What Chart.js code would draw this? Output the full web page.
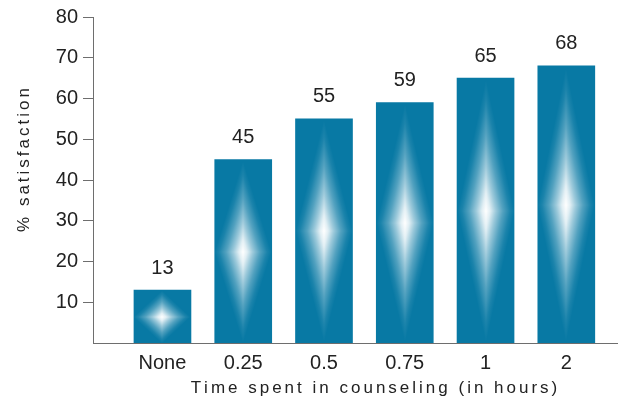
<!DOCTYPE html>
<html>
<head>
<meta charset="utf-8">
<script src="https://cdn.jsdelivr.net/npm/chart.js@4/dist/chart.umd.min.js"></script>
<style>
  html, body { margin: 0; padding: 0; background: #ffffff; }
  #chart { display: block; width: 618px; height: 400px; }
</style>
</head>
<body>
<canvas id="chart" width="618" height="400"></canvas>
<script>
// Satisfaction by time spent in counseling
const categories = ['None', '0.25', '0.5', '0.75', '1', '2'];
const satisfaction = [13, 45, 55, 59, 65, 68];
const yTicks = [10, 20, 30, 40, 50, 60, 70, 80];

const FONT = '"Liberation Sans", Arial, Helvetica, sans-serif';
const TEXT = '#222222';
const AXIS = '#6e6e6e';
const BAR = '#0879a4';

// Draw a string with extra space between the characters, centred on (0, 0)
function spacedText(ctx, str, spacing) {
  const widths = [...str].map(ch => ctx.measureText(ch).width);
  const total = widths.reduce((a, b) => a + b, 0) + spacing * (str.length - 1);
  let x = -total / 2;
  ctx.textAlign = 'left';
  [...str].forEach((ch, i) => {
    ctx.fillText(ch, x, 0);
    x += widths[i] + spacing;
  });
}

// White diamond-shaped highlight inside each bar
const diamondGlow = {
  id: 'diamondGlow',
  afterDatasetsDraw(chart) {
    const ctx = chart.ctx;
    const meta = chart.getDatasetMeta(0);
    meta.data.forEach(bar => {
      const { x, y, base, width } = bar.getProps(['x', 'y', 'base', 'width'], true);
      const left = Math.round(x - width / 2), right = Math.round(x + width / 2);
      const top = Math.round(Math.min(y, base)), bottom = Math.round(Math.max(y, base));
      const cx = Math.round(x), cy = Math.round((top + bottom) / 2);
      const a = width / 2, b = (bottom - top) / 2;
      const t = 1 / (1 / (a * a) + 1 / (b * b));
      [[1, 1], [1, -1], [-1, 1], [-1, -1]].forEach(([sx, sy]) => {
        const rx = sx > 0 ? cx : left, rw = sx > 0 ? right - cx : cx - left;
        const ry = sy > 0 ? cy : top, rh = sy > 0 ? bottom - cy : cy - top;
        const g = ctx.createLinearGradient(cx, cy, cx + sx * t / a, cy + sy * t / b);
        g.addColorStop(0, 'rgba(255,255,255,1)');
        g.addColorStop(0.15, 'rgba(255,255,255,0.88)');
        g.addColorStop(0.35, 'rgba(255,255,255,0.6)');
        g.addColorStop(0.6, 'rgba(255,255,255,0.3)');
        g.addColorStop(0.85, 'rgba(255,255,255,0.08)');
        g.addColorStop(1, 'rgba(255,255,255,0)');
        ctx.fillStyle = g;
        ctx.fillRect(rx, ry, rw, rh);
      });
    });
  }
};

// Value labels above the bars and the two axis titles
const annotations = {
  id: 'annotations',
  afterDraw(chart) {
    const ctx = chart.ctx;
    const meta = chart.getDatasetMeta(0);
    ctx.save();
    ctx.fillStyle = TEXT;
    ctx.font = '20px ' + FONT;
    ctx.textAlign = 'center';
    ctx.textBaseline = 'middle';
    meta.data.forEach((bar, i) => {
      ctx.fillText(String(satisfaction[i]), bar.x, bar.y - 22);
    });

    ctx.font = '17px ' + FONT;
    ctx.textBaseline = 'middle';
    ctx.save();
    ctx.translate(374, 388);
    spacedText(ctx, 'Time spent in counseling (in hours)', 3);
    ctx.restore();

    ctx.save();
    ctx.translate(24, 160);
    ctx.rotate(-Math.PI / 2);
    spacedText(ctx, '% satisfaction', 3);
    ctx.restore();
    ctx.restore();
  }
};

new Chart(document.getElementById('chart'), {
  type: 'bar',
  data: {
    datasets: [{
      data: satisfaction.map((v, i) => ({ x: i, y: v })),
      backgroundColor: BAR,
      borderWidth: 0,
      barThickness: 57
    }]
  },
  options: {
    responsive: false,
    animation: false,
    devicePixelRatio: 1,
    layout: { padding: { top: 17, right: 0, left: 0, bottom: 0 } },
    plugins: { legend: { display: false }, tooltip: { enabled: false } },
    scales: {
      x: {
        type: 'linear',
        offset: false,
        min: -0.86,
        max: 5.64,
        afterBuildTicks: s => { s.ticks = categories.map((_, i) => ({ value: i })); },
        afterFit: s => { s.height = 57; },
        ticks: {
          callback: v => categories[v] ?? '',
          autoSkip: false,
          maxRotation: 0,
          color: TEXT,
          padding: 0,
          font: { family: FONT, size: 20 }
        },
        grid: { display: false, offset: false },
        border: { display: true, color: AXIS, width: 1 }
      },
      y: {
        min: 0,
        max: 80,
        afterBuildTicks: s => { s.ticks = yTicks.map(v => ({ value: v })); },
        afterFit: s => { s.width = 93; },
        ticks: {
          color: TEXT,
          padding: 5,
          font: { family: FONT, size: 20 }
        },
        grid: { drawOnChartArea: false, drawTicks: true, tickLength: 10, color: AXIS },
        border: { display: true, color: AXIS, width: 1 }
      }
    }
  },
  plugins: [diamondGlow, annotations]
});
</script>
</body>
</html>
